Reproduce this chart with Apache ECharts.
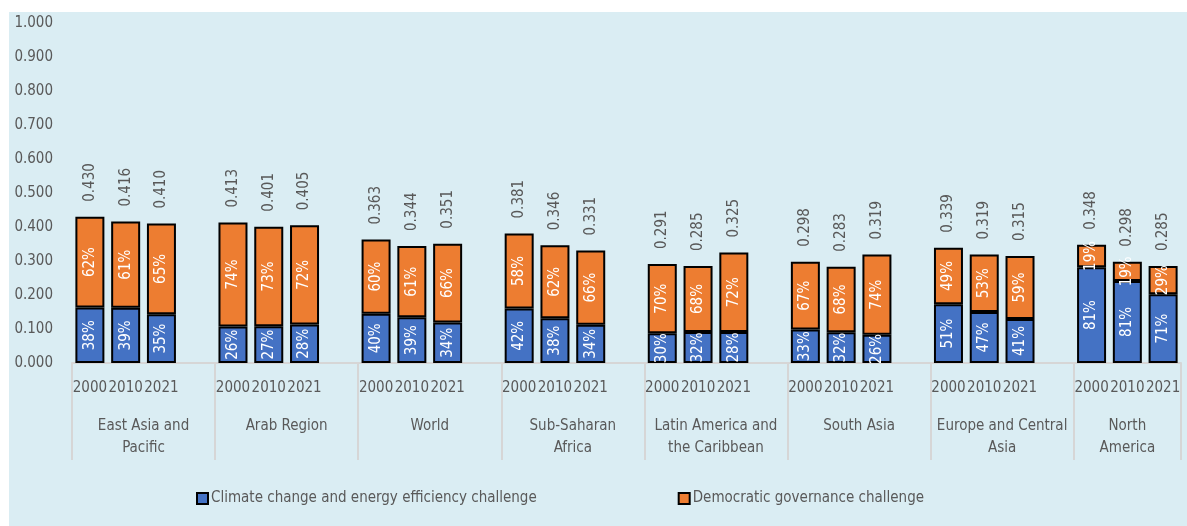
<!DOCTYPE html>
<html>
<head>
<meta charset="utf-8">
<script src="https://cdn.jsdelivr.net/npm/echarts@6/dist/echarts.min.js"></script>
<style>
  html, body { margin: 0; padding: 0; background: #ffffff; }
  #chart { width: 1187px; height: 526px; }
</style>
</head>
<body>
<div id="chart"></div>
<script>
// Regions (drawn as the second level of the category axis)
const regions = [
  'East Asia and\nPacific',
  'Arab Region',
  'World',
  'Sub-Saharan\nAfrica',
  'Latin America and\nthe Caribbean',
  'South Asia',
  'Europe and Central\nAsia',
  'North\nAmerica'
];
const years = ['2000', '2010', '2021'];

// Combined index value per region and year
const totals = [
  [0.430, 0.416, 0.410],
  [0.413, 0.401, 0.405],
  [0.363, 0.344, 0.351],
  [0.381, 0.346, 0.331],
  [0.291, 0.285, 0.325],
  [0.298, 0.283, 0.319],
  [0.339, 0.319, 0.315],
  [0.348, 0.298, 0.285]
];
// Share of each challenge in the total (%)
const climateShare = [
  [38, 39, 35], [26, 27, 28], [40, 39, 34], [42, 38, 34],
  [30, 32, 28], [33, 32, 26], [51, 47, 41], [81, 81, 71]
];
const democracyShare = [
  [62, 61, 65], [74, 73, 72], [60, 61, 66], [58, 62, 66],
  [70, 68, 72], [67, 68, 74], [49, 53, 59], [19, 19, 29]
];
const seriesNames = [
  'Climate change and energy efficiency challenge',
  'Democratic governance challenge'
];
const yTicks = { min: 0, max: 1, interval: 0.1 };

// Build the flat category list: three years per region, one blank spacer between regions
const categories = [];
const climateData = [];
const democracyData = [];
const groupEdges = [0];
const groupCenters = [];
regions.forEach((r, gi) => {
  const start = categories.length;
  years.forEach((y, yi) => {
    const t = totals[gi][yi];
    const c = +(t * climateShare[gi][yi] / 100).toFixed(4);
    categories.push(y);
    climateData.push({ value: c, pct: climateShare[gi][yi] });
    democracyData.push({ value: +(t - c).toFixed(4), pct: democracyShare[gi][yi], total: t });
  });
  if (gi < regions.length - 1) {
    categories.push('');
    climateData.push('-');
    democracyData.push('-');
  }
  const end = categories.length;
  groupEdges.push(end);
  groupCenters.push((start + end) / 2);
});
const nSlots = categories.length;

const FONT = '"DejaVu Sans Condensed", "Liberation Sans Narrow", sans-serif';
const FS = 15;
const TXT = '#595959';
const GRID_LINE = '#d6d6d6';

const chart = echarts.init(document.getElementById('chart'), null, { renderer: 'canvas' });

chart.setOption({
  animation: false,
  textStyle: { fontFamily: FONT },
  graphic: [{
    type: 'rect',
    z: -10,
    silent: true,
    shape: { x: 9, y: 12, width: 1178, height: 514 },
    style: { fill: '#daedf3' }
  }],
  legend: {
    left: 191,
    top: 486,
    itemWidth: 11,
    itemHeight: 11,
    itemGap: 141,
    icon: 'rect',
    textStyle: { fontFamily: FONT, fontSize: FS, color: TXT, padding: [0, 0, 0, -2] },
    data: seriesNames
  },
  grid: { left: 72, right: 6, top: 23, bottom: 163 },
  xAxis: [
    {
      type: 'category',
      data: categories,
      axisLine: { lineStyle: { color: GRID_LINE, width: 2 } },
      axisTick: { show: false },
      axisLabel: { interval: 0, fontFamily: FONT, fontSize: FS, color: TXT, margin: 18 }
    },
    {
      type: 'value',
      position: 'bottom',
      min: 0,
      max: nSlots,
      axisLine: { show: false },
      splitLine: { show: false },
      axisTick: {
        show: true,
        length: 97,
        customValues: groupEdges,
        lineStyle: { color: GRID_LINE, width: 2 }
      },
      axisLabel: {
        customValues: groupCenters,
        formatter: v => {
          const i = groupCenters.indexOf(v);
          return i >= 0 ? regions[i] : '';
        },
        fontFamily: FONT, fontSize: FS, color: TXT, lineHeight: 22,
        margin: 52, align: 'center'
      }
    }
  ],
  yAxis: {
    type: 'value',
    min: yTicks.min,
    max: yTicks.max,
    interval: yTicks.interval,
    axisLine: { show: false },
    axisTick: { show: false },
    splitLine: { show: false },
    axisLabel: {
      fontFamily: FONT, fontSize: FS, color: TXT, margin: 19,
      formatter: v => v.toFixed(3)
    }
  },
  series: [
    {
      name: seriesNames[0],
      type: 'bar',
      stack: 'total',
      barWidth: 29,
      xAxisIndex: 0,
      itemStyle: { color: '#4472c4', borderColor: '#000', borderWidth: 2 },
      label: {
        show: true, position: 'inside', rotate: 90,
        fontFamily: FONT, fontSize: FS, color: '#ffffff',
        formatter: p => p.data.pct + '%'
      },
      data: climateData
    },
    {
      name: seriesNames[1],
      type: 'bar',
      stack: 'total',
      barWidth: 29,
      xAxisIndex: 0,
      itemStyle: { color: '#ed7d31', borderColor: '#000', borderWidth: 2 },
      label: {
        show: true, position: 'inside', rotate: 90,
        fontFamily: FONT, fontSize: FS, color: '#ffffff',
        formatter: p => p.data.pct + '%'
      },
      data: democracyData
    },
    {
      // Totals written above each stack
      name: 'total',
      type: 'bar',
      stack: 'total',
      barWidth: 29,
      xAxisIndex: 0,
      silent: true,
      itemStyle: { color: 'transparent' },
      label: {
        show: true, position: 'insideBottom', rotate: 90,
        align: 'left', verticalAlign: 'middle', distance: 15,
        fontFamily: FONT, fontSize: FS, color: TXT,
        formatter: p => p.data.total.toFixed(3)
      },
      data: democracyData.map(d => d === '-' ? '-' : { value: 0.0001, total: d.total })
    }
  ]
});
</script>
</body>
</html>
